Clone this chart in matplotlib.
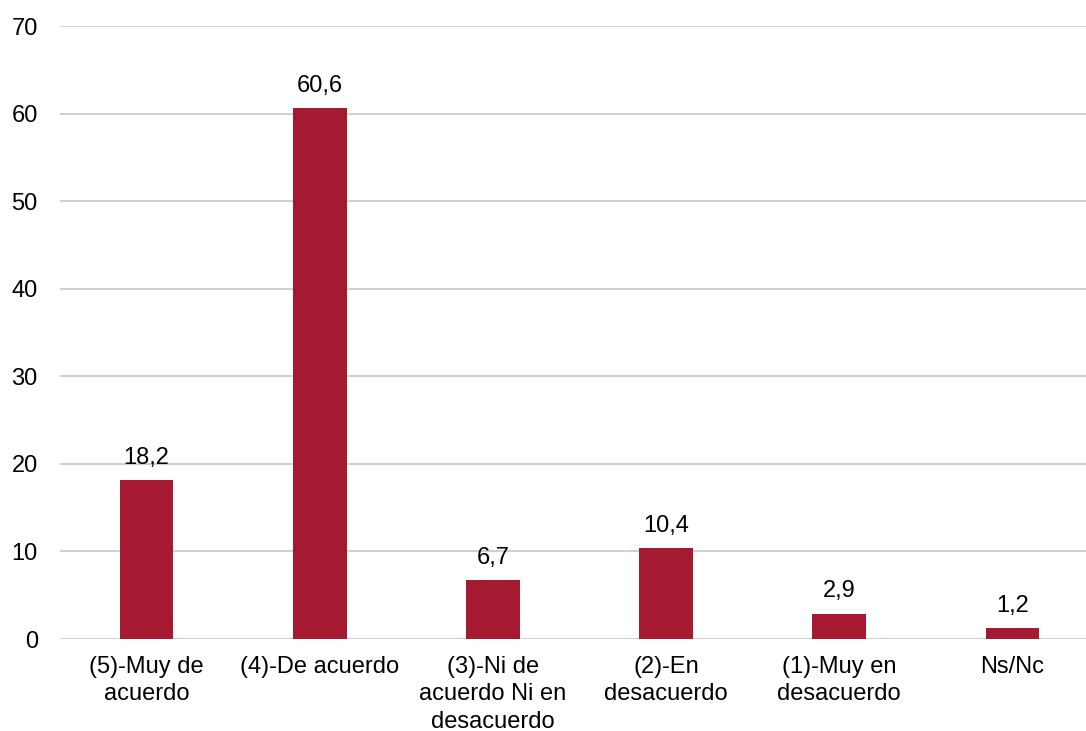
import matplotlib.pyplot as plt

plt.rcParams['font.family'] = ['Liberation Sans', 'DejaVu Sans']

categories = ['(5)-Muy de\nacuerdo', '(4)-De acuerdo', '(3)-Ni de\nacuerdo Ni en\ndesacuerdo',
              '(2)-En\ndesacuerdo', '(1)-Muy en\ndesacuerdo', 'Ns/Nc']
values = [18.2, 60.6, 6.7, 10.4, 2.9, 1.2]
value_labels = ['18,2', '60,6', '6,7', '10,4', '2,9', '1,2']
y_ticks = [0, 10, 20, 30, 40, 50, 60, 70]

fig = plt.figure(figsize=(10.86, 7.31), dpi=100)
ax = fig.add_axes([60 / 1086, 1 - 639 / 731, 1039 / 1086, 613 / 731])

x = range(len(categories))
bars = ax.bar(x, values, width=0.31, color='#A51A30', zorder=3)

for rect, lab in zip(bars, value_labels):
    ax.annotate(lab, (rect.get_x() + rect.get_width() / 2, rect.get_height()),
                xytext=(0, 8), textcoords='offset points',
                ha='center', va='bottom', fontsize=17)

ax.set_xlim(-0.5, len(categories) - 0.5)
ax.set_ylim(0, 70)
ax.set_yticks(y_ticks)
ax.set_xticks(list(x))
ax.set_xticklabels(categories, fontsize=17, linespacing=1.32)
ax.tick_params(axis='y', length=0, pad=16, labelsize=17)
ax.tick_params(axis='x', length=0, pad=12)
ax.grid(axis='y', color='#C4C8CA', linewidth=1.2, zorder=0)
for s in ax.spines.values():
    s.set_visible(False)

fig.savefig('out.png', dpi=100)
